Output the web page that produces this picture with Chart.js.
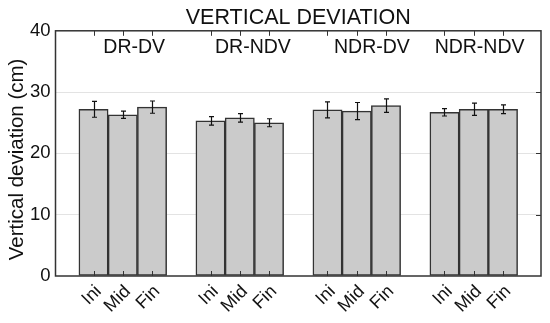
<!DOCTYPE html>
<html>
<head>
<meta charset="utf-8">
<script src="https://cdn.jsdelivr.net/npm/chart.js@4.4.1/dist/chart.umd.min.js"></script>
<style>
html,body{margin:0;padding:0;background:#fff;}
#wrap{width:550px;height:323px;}
</style>
</head>
<body>
<div id="wrap"><canvas id="c" width="550" height="323"></canvas></div>
<script>
// ---- data ----
const groups = ['DR-DV', 'DR-NDV', 'NDR-DV', 'NDR-NDV'];
const phases = ['Ini', 'Mid', 'Fin'];
const drDv      = [27.2, 26.3, 27.55];
const drNdv     = [25.3, 25.8, 25.0];
const ndrDv     = [27.1, 26.9, 27.8];
const ndrNdv    = [26.7, 27.2, 27.2];
const drDvErr   = [1.3, 0.6, 1.0];
const drNdvErr  = [0.7, 0.7, 0.65];
const ndrDvErr  = [1.3, 1.4, 1.1];
const ndrNdvErr = [0.6, 1.0, 0.7];
const yTicks = [0, 10, 20, 30, 40];
const yTitle = 'Vertical deviation (cm)';

// ---- layout constants ----
const SLOT_PER_GROUP = 4;           // 3 bars + 1 gap
const X_MIN = -1.3, X_MAX = 15.3;
const labelShift = [0.39, 0.45, 0.52, 0.2]; // group label offset from group center (x units)
const FONT = "'Liberation Sans', Arial, sans-serif";

const means = [drDv, drNdv, ndrDv, ndrNdv];
const errs = [drDvErr, drNdvErr, ndrDvErr, ndrNdvErr];
const points = [], errList = [], tickPos = [];
means.forEach((g, gi) => g.forEach((v, pi) => {
  const x = gi * SLOT_PER_GROUP + pi;
  points.push({x: x, y: v});
  errList.push(errs[gi][pi]);
  tickPos.push(x);
}));

const framePlugin = {
  id: 'frame',
  afterDatasetsDraw(chart) {
    const ctx = chart.ctx, ca = chart.chartArea;
    const xs = chart.scales.x, ys = chart.scales.y;
    ctx.save();
    // error bars
    ctx.strokeStyle = '#111';
    ctx.lineWidth = 1.2;
    points.forEach((p, i) => {
      const px = Math.round(xs.getPixelForValue(p.x)) + 0.5;
      const yt = ys.getPixelForValue(p.y + errList[i]);
      const yb = ys.getPixelForValue(p.y - errList[i]);
      ctx.beginPath();
      ctx.moveTo(px, yt); ctx.lineTo(px, yb);
      ctx.moveTo(px - 2.5, yt); ctx.lineTo(px + 2.5, yt);
      ctx.moveTo(px - 2.5, yb); ctx.lineTo(px + 2.5, yb);
      ctx.stroke();
    });
    // frame
    ctx.strokeStyle = '#333';
    ctx.lineWidth = 1.5;
    ctx.strokeRect(ca.left, ca.top, ca.right - ca.left, ca.bottom - ca.top);
    // tick marks (inward)
    ctx.lineWidth = 1;
    ctx.beginPath();
    tickPos.forEach(v => {
      const px = Math.round(xs.getPixelForValue(v)) + 0.5;
      ctx.moveTo(px, ca.top); ctx.lineTo(px, ca.top + 5);
      ctx.moveTo(px, ca.bottom); ctx.lineTo(px, ca.bottom - 5);
    });
    yTicks.slice(1, -1).forEach(v => {
      const py = Math.round(ys.getPixelForValue(v)) + 0.5;
      ctx.moveTo(ca.right, py); ctx.lineTo(ca.right - 5, py);
    });
    ctx.stroke();
    // group labels
    ctx.fillStyle = '#111';
    ctx.font = '19.5px ' + FONT;
    ctx.textAlign = 'center';
    ctx.textBaseline = 'middle';
    groups.forEach((g, gi) => {
      const cx = xs.getPixelForValue(gi * SLOT_PER_GROUP + 1 + labelShift[gi]);
      ctx.fillText(g, cx, ca.top + 17);
    });
    // y axis title
    ctx.save();
    ctx.font = '20.5px ' + FONT;
    ctx.translate(17, (ca.top + ca.bottom) / 2 + 6);
    ctx.rotate(-Math.PI / 2);
    ctx.fillText(yTitle, 0, 0);
    ctx.restore();
    ctx.restore();
  }
};

new Chart(document.getElementById('c'), {
  type: 'bar',
  data: {
    datasets: [{
      data: points,
      backgroundColor: '#cbcbcb',
      borderColor: '#333',
      borderWidth: 1.5,
      borderSkipped: false,
      categoryPercentage: 1.0,
      barPercentage: 1.0
    }]
  },
  options: {
    responsive: false,
    animation: false,
    devicePixelRatio: 1,
    layout: {padding: {top: 0, right: 9, left: 0, bottom: 0}},
    plugins: {
      legend: {display: false},
      tooltip: {enabled: false},
      title: {
        display: true,
        text: 'VERTICAL DEVIATION',
        fullSize: false,
        color: '#111',
        font: {family: FONT, size: 21.5, weight: 'normal'},
        padding: {top: 5, bottom: 0}
      }
    },
    scales: {
      x: {
        type: 'linear',
        offset: false,
        min: X_MIN, max: X_MAX,
        afterBuildTicks(scale) { scale.ticks = tickPos.map(v => ({value: v})); },
        afterFit(scale) { scale.height = 47; },
        grid: {display: false, drawTicks: false, offset: false},
        border: {display: false},
        ticks: {
          color: '#111',
          font: {family: FONT, size: 18},
          maxRotation: 45, minRotation: 45,
          autoSkip: false,
          padding: 5,
          labelOffset: 5,
          callback: (v, i) => phases[i % phases.length]
        }
      },
      y: {
        min: 0, max: 40,
        afterBuildTicks(scale) { scale.ticks = yTicks.map(v => ({value: v})); },
        afterFit(scale) { scale.width = 55.5; },
        grid: {
          drawTicks: false,
          color: ctx => (ctx.tick && (ctx.tick.value === 0 || ctx.tick.value === 40)) ? 'rgba(0,0,0,0)' : '#e3e3e3',
          lineWidth: 1
        },
        border: {display: false},
        title: {display: false},
        ticks: {
          color: '#111',
          font: {family: FONT, size: 18.5},
          padding: 5
        }
      }
    }
  },
  plugins: [framePlugin]
});
</script>
</body>
</html>
